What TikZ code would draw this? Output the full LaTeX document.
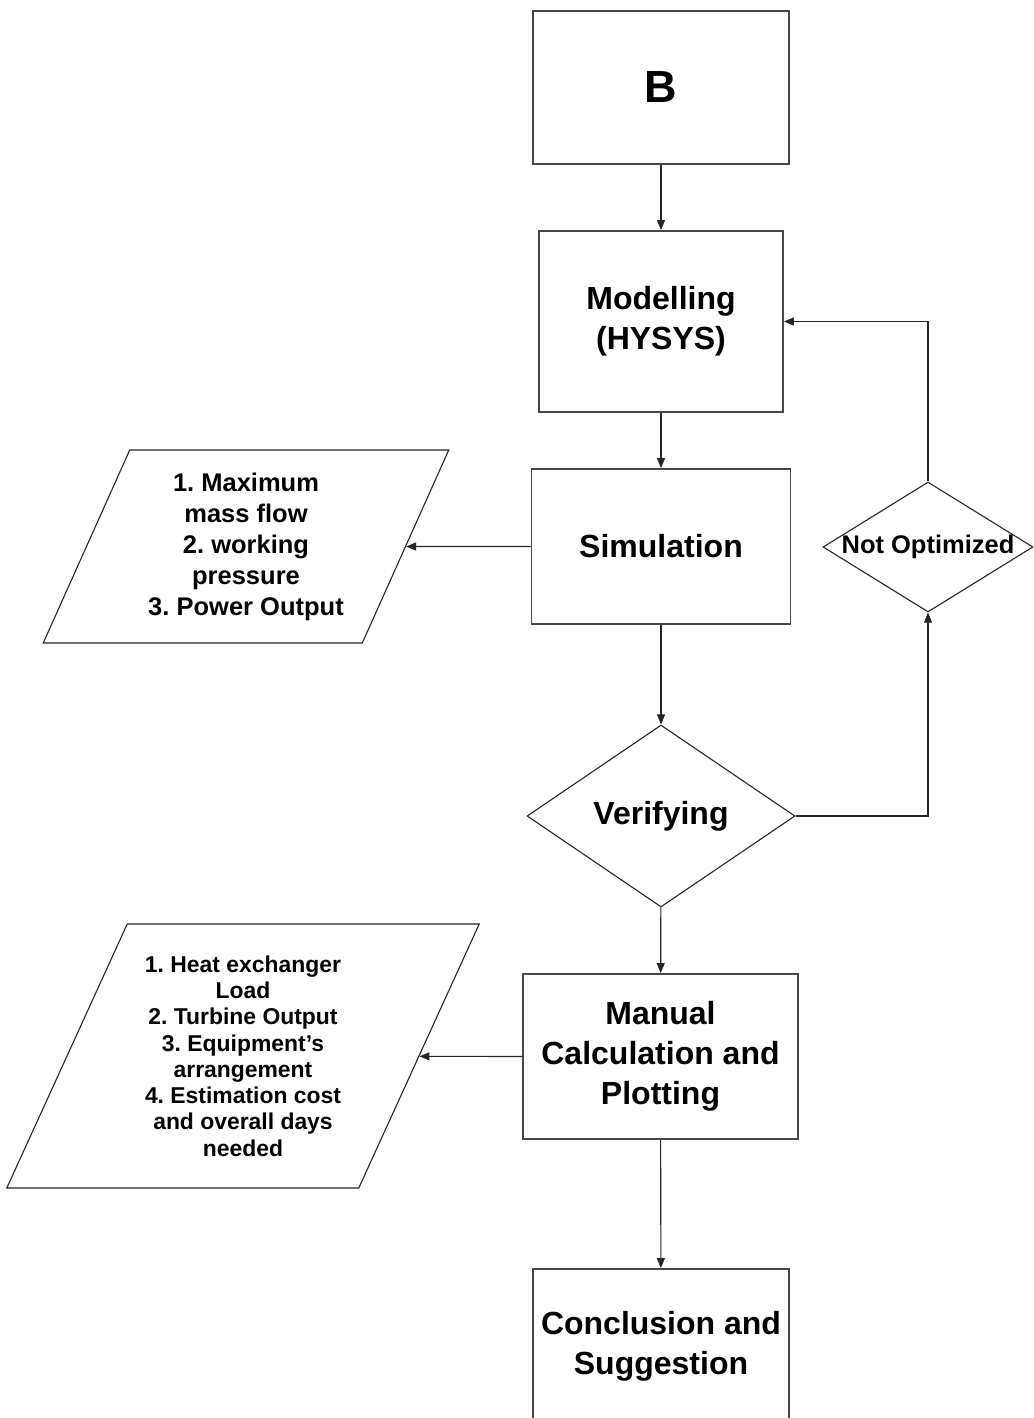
\documentclass[tikz,border=0pt]{standalone}
\usepackage{fontspec}
\setmainfont{Liberation Sans}
\usetikzlibrary{shapes.geometric,arrows.meta}
\frenchspacing
\begin{document}
\begin{tikzpicture}[x=1pt,y=-1pt,
  box/.style={draw=black!72, line width=1.8pt, rectangle, inner sep=0pt, align=center,
    font=\bfseries\fontsize{32}{40}\selectfont},
  decision/.style={draw=black!85, line width=1.1pt, diamond, inner sep=0pt, align=center},
  io/.style={draw=black!85, line width=1.1pt, trapezium, trapezium stretches=true,
    inner sep=0pt, align=center},
  arr/.style={draw=black!85, line width=1.1pt, -{Triangle[length=10pt,width=8pt]}}
]
\useasboundingbox (0,0) rectangle (1033,1418);
\clip (0,0) rectangle (1033,1418);
\fill[white] (0,0) rectangle (1033,1418);

\node[box, minimum width=256pt, minimum height=153pt, font=\bfseries\fontsize{45}{50}\selectfont] (b) at (661,87.5) {B};
\node[box, minimum width=244pt, minimum height=181pt] (model) at (661,321.5) {Modelling\\(HYSYS)};
\node[box, minimum width=259pt, minimum height=155pt] (sim) at (661,546.5) {Simulation};
\node[decision, minimum width=268pt, minimum height=182pt, font=\bfseries\fontsize{32}{40}\selectfont] (ver) at (661,816) {\makebox[0pt]{Verifying}};
\node[decision, minimum width=210pt, minimum height=130pt, font=\bfseries\fontsize{25.5}{30}\selectfont] (nopt) at (928,547) {\makebox[0pt]{Not Optimized}};
\node[box, minimum width=275pt, minimum height=165pt] (man) at (660.5,1056.5) {Manual\\Calculation and\\Plotting};
\node[box, minimum width=256pt, minimum height=154pt] (concl) at (661,1346) {Conclusion and\\Suggestion};

\node[io, trapezium left angle=63.8, trapezium right angle=116.2, minimum width=406pt, minimum height=193pt,
  font=\bfseries\fontsize{25.5}{31}\selectfont] (p1) at (246,546.5)
  {1. Maximum\\mass flow\\2. working\\pressure\\3. Power Output};
\node[io, trapezium left angle=63.1, trapezium right angle=116.9, minimum width=475pt, minimum height=264pt,
  font=\bfseries\fontsize{22.9}{26.3}\selectfont] (p2) at (243,1056)
  {1. Heat exchanger\\Load\\2. Turbine Output\\3. Equipment’s\\arrangement\\4. Estimation cost\\and overall days\\needed};

\draw[arr] (b) -- (model);
\draw[arr] (model) -- (sim);
\draw[arr] (sim) -- (ver);
\draw[arr] (ver) -- (man);
\draw[arr] (man) -- (concl);
\draw[arr] (sim.west) -- (p1);
\draw[arr] (man.west) -- (p2);
\draw[arr] (ver.east) -| (nopt.south);
\draw[arr] (nopt.north) |- (model.east);
\end{tikzpicture}
\end{document}
